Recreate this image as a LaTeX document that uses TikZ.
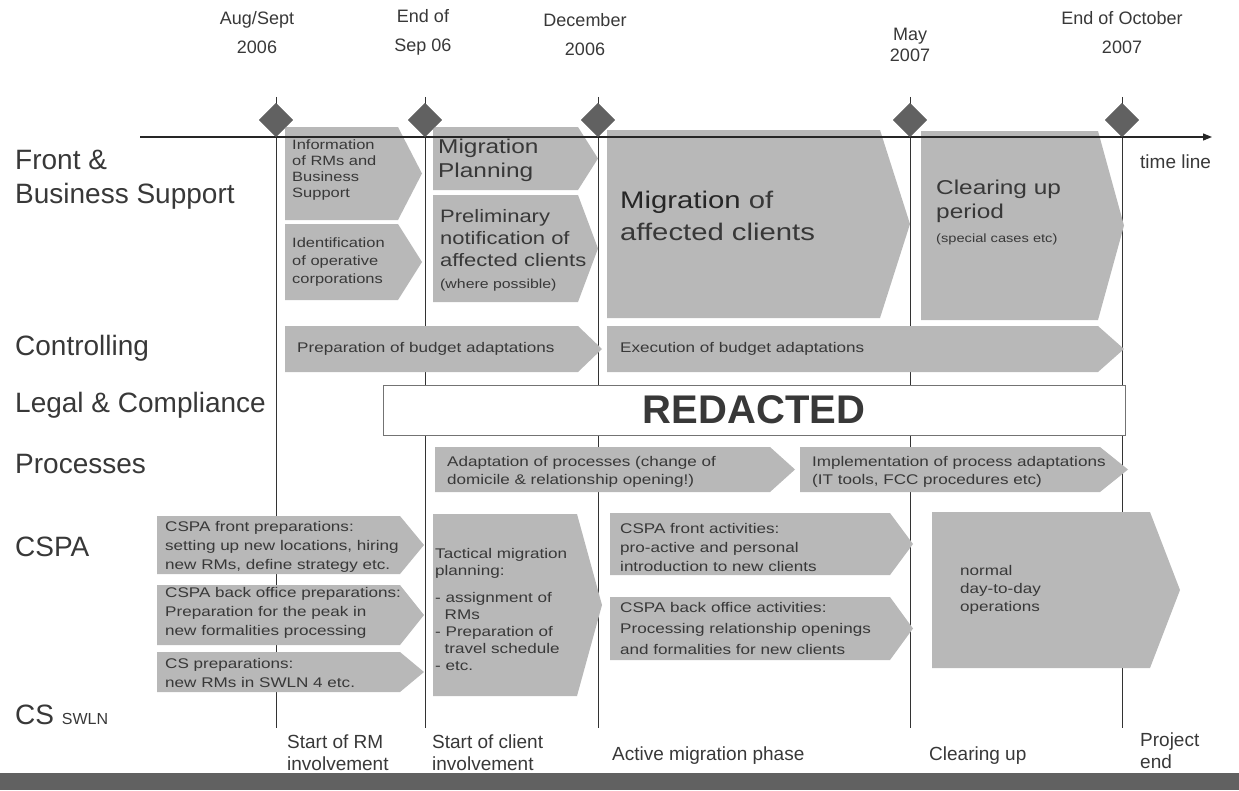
\documentclass[tikz,border=0pt]{standalone}
\usepackage{fontspec}
\setmainfont{Liberation Sans}
\newfontfamily\boxfont[FakeStretch=1.22]{Liberation Sans}
\usetikzlibrary{arrows.meta,shapes.geometric}

\definecolor{boxgray}{gray}{0.72}
\definecolor{ink}{gray}{0.22}
\definecolor{diamondgray}{gray}{0.38}

\tikzset{
  phase/.style={fill=boxgray},
  boxtext/.style={font=\boxfont\fontsize{14}{17}\selectfont, text=ink, align=left, anchor=west, inner sep=0pt},
  lane/.style={font=\fontsize{28}{34}\selectfont, text=ink, anchor=west, inner sep=0pt, align=left},
  datelbl/.style={font=\fontsize{18}{29}\selectfont, text=ink, align=center, inner sep=0pt},
  foot/.style={font=\fontsize{19}{22}\selectfont, text=ink, align=left, inner sep=0pt},
  guide/.style={draw=black!80, line width=0.9pt},
  milestone/.style={diamond, fill=diamondgray, minimum width=34pt, minimum height=34pt, inner sep=0pt},
}

% pentagon-shaped phase arrow: name, left, top, body right, bottom, tip x
\newcommand{\phasearrow}[6]{%
  \path[phase] (#2,#3) -- (#4,#3) -- (#6,{(#3+#5)/2}) -- (#4,#5) -- (#2,#5) -- cycle;
  \coordinate (#1) at ({(#2+#4)/2},{(#3+#5)/2});}

\begin{document}
\begin{tikzpicture}[x=1pt,y=-1pt]
\useasboundingbox (0,0) rectangle (1239,790);

% milestones
\node[milestone] (m1) at (276,120) {};
\node[milestone] (m2) at (425,120) {};
\node[milestone] (m3) at (598,120) {};
\node[milestone] (m4) at (910,120) {};
\node[milestone] (m5) at (1122,120) {};

\coordinate (m1-end) at (276,728);
\coordinate (m2-end) at (425,728);
\coordinate (m3-end) at (598,728);
\coordinate (m4-end) at (910,728);
\coordinate (m5-end) at (1122,728);

% guide lines from each milestone down to the phase labels
\foreach \m in {m1,m2,m3,m4,m5}
  \draw[guide] ([yshift=6pt]\m.north) -- (\m-end);

% date labels
\node[datelbl] (d1) at (257,33) {Aug/Sept\\2006};
\node[datelbl] (d2) at (423,32) {End of\\Sep 06};
\node[datelbl] (d3) at (585,35) {December\\2006};
\node[datelbl, font=\fontsize{18}{21}\selectfont] (d4) at (910,45) {May\\2007};
\node[datelbl] (d5) at (1122,33) {End of October\\2007};

% lane titles
\node[lane] (l1) at (15,180) {Front \&\\Business Support};
\node[lane] (l2) at (15,348) {Controlling};
\node[lane] (l3) at (15,405) {Legal \& Compliance};
\node[lane] (l4) at (15,464) {Processes};
\node[lane] (l5) at (15,547) {CSPA};
\node[lane] (l6) at (15,715) {CS \fontsize{16}{18}\selectfont SWLN};

% Front & Business Support
\phasearrow{pA}{285}{127}{398}{220}{422}
\node[boxtext, font=\boxfont\fontsize{13.5}{16}\selectfont] (tA) at (292,170) {Information\\of RMs and\\Business\\Support};
\phasearrow{pB}{285}{224}{398}{300}{422}
\node[boxtext, font=\boxfont\fontsize{13.5}{18}\selectfont] (tB) at (292,262) {Identification\\of operative\\corporations};
\phasearrow{pC}{433}{127}{578}{190}{598}
\node[boxtext, font=\boxfont\fontsize{20}{24}\selectfont] (tC) at (438,160) {Migration\\Planning};
\phasearrow{pD}{433}{195}{578}{302}{598}
\node[boxtext, font=\boxfont\fontsize{18}{22}\selectfont] (tD) at (440,250) {Preliminary\\notification of\\affected clients\\{\fontsize{13}{15}\selectfont(where possible)}};
\phasearrow{pE}{607}{130}{880}{318}{910}
\node[boxtext, font=\boxfont\fontsize{24}{32}\selectfont] (tE) at (620,216) {{\color{black!85}Migration} of\\affected clients};
\phasearrow{pF}{921}{131}{1098}{320}{1124}
\node[boxtext, font=\boxfont\fontsize{20}{24}\selectfont] (tF) at (936,212) {Clearing up\\period\\{\fontsize{12}{14}\selectfont(special cases etc)}};

% Controlling
\phasearrow{pG}{285}{326}{578}{372}{602}
\node[boxtext] (tG) at (297,349) {Preparation of budget adaptations};
\phasearrow{pH}{607}{326}{1098}{372}{1124}
\node[boxtext] (tH) at (620,349) {Execution of budget adaptations};

% Legal & Compliance
\node[draw=black!55, line width=0.8pt, fill=white, minimum width=742pt, minimum height=50pt,
      inner sep=0pt, text=black!78, font=\bfseries\fontsize{40}{40}\selectfont] (redact) at (754,410) {REDACTED};

% Processes
\phasearrow{pI}{435}{447}{770}{492}{795}
\node[boxtext, font=\boxfont\fontsize{14}{18}\selectfont] (tI) at (447,472) {Adaptation of processes (change of\\domicile \& relationship opening!)};
\phasearrow{pJ}{800}{447}{1100}{492}{1128}
\node[boxtext, font=\boxfont\fontsize{14}{18}\selectfont] (tJ) at (812,472) {Implementation of process adaptations\\(IT tools, FCC procedures etc)};

% CSPA and CS
\phasearrow{pK}{157}{516}{400}{574}{424}
\node[boxtext, font=\boxfont\fontsize{14}{19}\selectfont] (tK) at (165,547) {CSPA front preparations:\\setting up new locations, hiring\\new RMs, define strategy etc.};
\phasearrow{pL}{157}{585}{400}{645}{424}
\node[boxtext, font=\boxfont\fontsize{14}{19}\selectfont] (tL) at (165,613) {CSPA back office preparations:\\Preparation for the peak in\\new formalities processing};
\phasearrow{pM}{157}{652}{400}{692}{424}
\node[boxtext, font=\boxfont\fontsize{14}{19}\selectfont] (tM) at (165,673) {CS preparations:\\new RMs in SWLN 4 etc.};
\phasearrow{pN}{433}{514}{577}{696}{602}
\node[boxtext, font=\boxfont\fontsize{14}{17}\selectfont] (tN) at (435,609) {Tactical migration\\planning:\\[10pt]- assignment of\\\ \ RMs\\- Preparation of\\\ \ travel schedule\\- etc.};
\phasearrow{pO}{610}{513}{890}{575}{913}
\node[boxtext, font=\boxfont\fontsize{14}{19}\selectfont] (tO) at (620,547) {CSPA front activities:\\pro-active and personal\\introduction to new clients};
\phasearrow{pP}{610}{597}{890}{660}{913}
\node[boxtext, font=\boxfont\fontsize{14}{21}\selectfont] (tP) at (620,628) {CSPA back office activities:\\Processing relationship openings\\and formalities for new clients};
\phasearrow{pQ}{932}{512}{1150}{668}{1180}
\node[boxtext, font=\boxfont\fontsize{14}{18}\selectfont] (tQ) at (960,590) {normal\\day-to-day\\operations};

% time line
\coordinate (tl-start) at (140,137);
\coordinate (tl-end) at (1212,137);
\draw[line width=1.2pt, draw=black!85, -{Triangle[length=9pt,width=7pt]}] (tl-start) -- (tl-end);
\foreach \m in {m1,m2,m3,m4,m5}
  \node[milestone] at (\m) {};
\node[anchor=west, inner sep=0pt, text=ink, font=\fontsize{19}{20}\selectfont] (tl-label) at (1140,162) {time line};

% phase labels at the foot
\node[foot, anchor=north west] (f1) at (287,735) {Start of RM\\involvement};
\node[foot, anchor=north west] (f2) at (432,735) {Start of client\\involvement};
\node[foot, anchor=west] (f3) at (612,756) {Active migration phase};
\node[foot, anchor=west] (f4) at (929,756) {Clearing up};
\node[foot, anchor=north west] (f5) at (1140,733) {Project\\end};

% footer bar
\fill[black!62] (0,773) rectangle (1239,790);
\end{tikzpicture}
\end{document}
